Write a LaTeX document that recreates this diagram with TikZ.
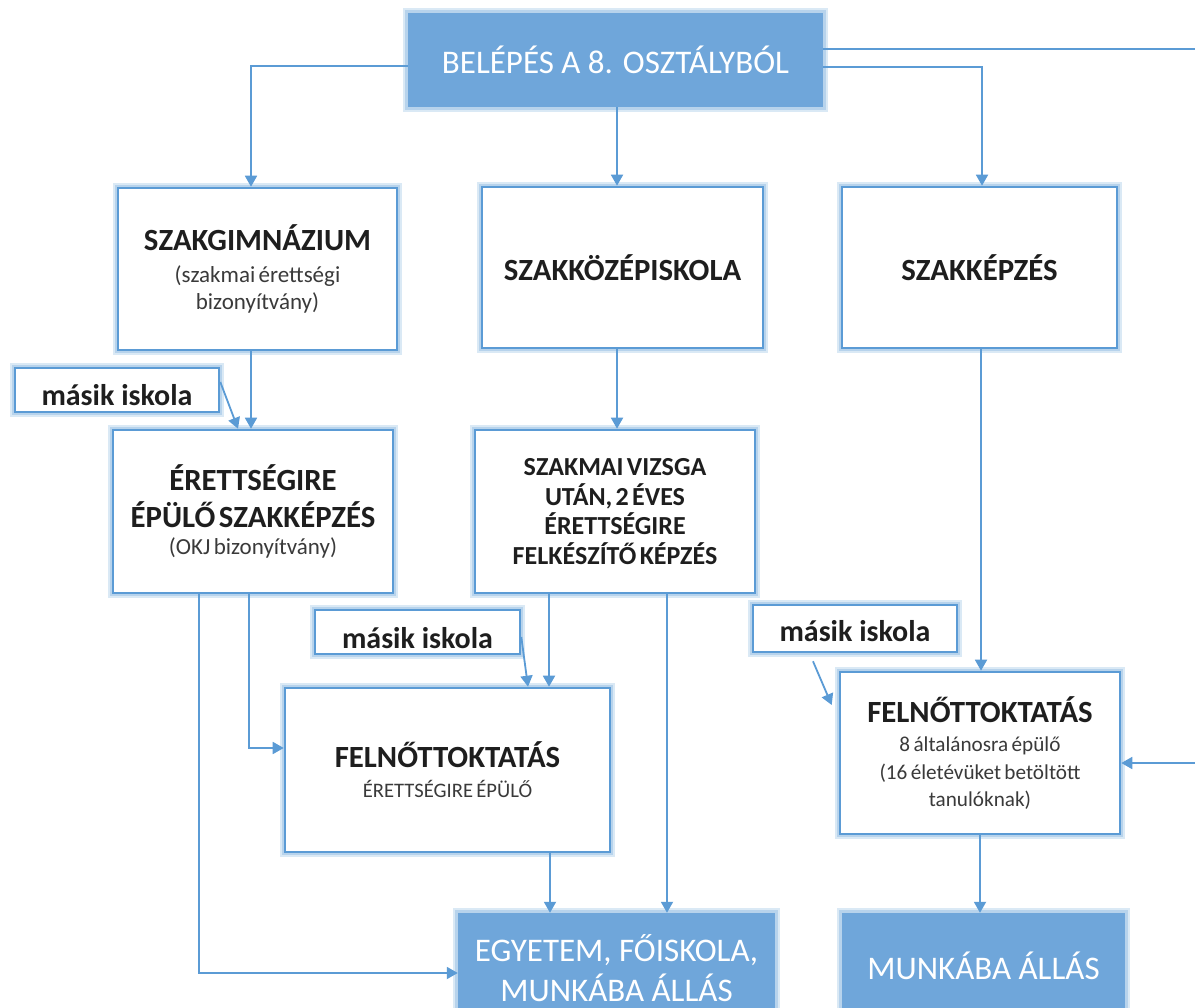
\documentclass[tikz,border=0pt]{standalone}
\usepackage{fontspec}
\setmainfont{Carlito}
\usetikzlibrary{arrows.meta,calc}
\definecolor{bord}{HTML}{5B9BD5}
\definecolor{fillb}{HTML}{6FA6DA}
\definecolor{glowc}{HTML}{BDD7EE}
\definecolor{txt}{HTML}{1E1E1E}
\definecolor{subtxt}{HTML}{3A3A3A}
\newcommand\myhd{\fontsize{30.8}{37}\selectfont\bfseries}
\newcommand\mysub{\fontsize{23}{27.5}\selectfont\color{subtxt}}
\newcommand\myviz{\fontsize{26}{29.5}\selectfont\bfseries}
\newcommand\mybig{\fontsize{33}{40}\selectfont}
\newcommand\mymasik{\fontsize{30}{32}\selectfont\bfseries}
\tikzset{
 glowbox/.style={preaction={draw=glowc, line width=10pt, opacity=0.55},
                 preaction={draw=glowc!70!bord, line width=5.5pt, opacity=0.6}},
 wbox/.style={glowbox, draw=bord, line width=2.6pt, fill=white, align=center, text=txt, inner sep=0pt},
 bbox/.style={glowbox, draw=none, fill=fillb, align=center, text=white, inner sep=0pt},
 conn/.style={draw=bord, line width=1.8pt, -{Triangle[length=11pt,width=12pt]}},
}
\begin{document}
\begin{tikzpicture}[x=1pt,y=-1pt]
\clip (0,0) rectangle (1195,1008);
\fill[white] (0,0) rectangle (1195,1008);
% nodes
\node[bbox, minimum width=415pt, minimum height=94pt, font=\mybig] (top) at (615.5,60) {BELÉPÉS A 8. OSZTÁLYBÓL};
\node[wbox, minimum width=279pt, minimum height=162pt, text width=270pt] (szg) at (257.5,269)
  {{\myhd SZAKGIMNÁZIUM\par}\vspace{4pt}{\mysub (szakmai érettségi\\bizonyítvány)\par}};
\node[wbox, minimum width=281pt, minimum height=161pt, text width=275pt] (szk) at (622.5,267.5)
  {{\myhd SZAKKÖZÉPISKOLA\par}};
\node[wbox, minimum width=275pt, minimum height=161pt, text width=265pt] (szkp) at (979.5,267.5)
  {{\myhd SZAKKÉPZÉS\par}};
\node[wbox, minimum width=204pt, minimum height=44pt] (m1) at (117,390)
  {\raisebox{-16pt}[0pt][0pt]{\mymasik másik iskola}};
\node[wbox, minimum width=280pt, minimum height=163pt, text width=276pt] (ere) at (253,511.5)
  {{\myhd ÉRETTSÉGIRE\\ÉPÜLŐ SZAKKÉPZÉS\par}{\mysub (OKJ bizonyítvány)\par}};
\node[wbox, minimum width=280pt, minimum height=163pt, text width=270pt] (viz) at (615,511.5)
  {{\myviz SZAKMAI VIZSGA\\UTÁN, 2 ÉVES\\ÉRETTSÉGIRE\\FELKÉSZÍTŐ KÉPZÉS\par}};
\node[wbox, minimum width=205pt, minimum height=44pt] (m2) at (417.5,632)
  {\raisebox{-16pt}[0pt][0pt]{\mymasik másik iskola}};
\node[wbox, minimum width=325pt, minimum height=164pt, text width=315pt] (fel1) at (447.5,770)
  {{\myhd FELNŐTTOKTATÁS\par}\vspace{3pt}{\fontsize{20.6}{27}\selectfont\color{subtxt}ÉRETTSÉGIRE ÉPÜLŐ\par}};
\node[wbox, minimum width=204pt, minimum height=47pt] (m3) at (855,628.5)
  {\raisebox{-13pt}[0pt][0pt]{\mymasik másik iskola}};
\node[wbox, minimum width=280pt, minimum height=162pt, text width=270pt] (fel2) at (980,753)
  {{\myhd FELNŐTTOKTATÁS\par}\vspace{2pt}{\fontsize{21.2}{27.5}\selectfont\color{subtxt}8 általánosra épülő\\(16 életévüket betöltött\\tanulóknak)\par}};
\node[bbox, minimum width=317pt, minimum height=110pt, font=\mybig] (egy) at (616.5,968)
  {EGYETEM, FŐISKOLA,\\MUNKÁBA ÁLLÁS};
\node[bbox, minimum width=283pt, minimum height=110pt, font=\mybig] (mun) at (983.5,968)
  {\raisebox{4pt}{MUNKÁBA ÁLLÁS}};
\coordinate (rr) at (1215,763);
% connectors
\draw[conn] ([yshift=-6pt]top.west) -| ([xshift=-6.5pt]szg.north);
\draw[conn] ([xshift=1.5pt]top.south) -- ([xshift=1.5pt]top.south |- szk.north);
\draw[conn] ([yshift=-7pt]top.east) -| ([xshift=2.5pt]szkp.north);
\draw[conn] ([yshift=11pt]top.east) -| (rr) -- ([yshift=-10pt]fel2.east);
\draw[conn] ([xshift=-6.5pt]szg.south) -- ([xshift=-6.5pt]szg.south |- ere.north);
\draw[conn] ([yshift=8pt]m1.east) -- ([xshift=-15pt]ere.north);
\draw[conn] ([xshift=-5.5pt]szk.south) -- ([xshift=-5.5pt]szk.south |- viz.north);
\draw[conn] ([xshift=-54pt]ere.south) |- ([yshift=-5pt]egy.west);
\draw[conn] ([xshift=-4pt]ere.south) |- ([yshift=22pt]fel1.west);
\draw[conn] ([xshift=-66pt]viz.south) -- ([xshift=-66pt]viz.south |- fel1.north);
\draw[conn] ([xshift=52pt]viz.south) -- ([xshift=52pt]viz.south |- egy.north);
\draw[conn] ([yshift=-5pt]m2.east) -- ([xshift=80.5pt]fel1.north);
\draw[conn] ([xshift=102.5pt]fel1.south) -- ([xshift=102.5pt]fel1.south |- egy.north);
\draw[conn] ([xshift=1.5pt]szkp.south) -- ([xshift=1.5pt]szkp.south |- fel2.north);
\draw[conn] ([xshift=-42pt,yshift=-8pt]m3.south) -- ([xshift=-7pt,yshift=48pt]fel2.west);
\draw[conn] (fel2.south) -- (fel2.south |- mun.north);
\end{tikzpicture}
\end{document}
